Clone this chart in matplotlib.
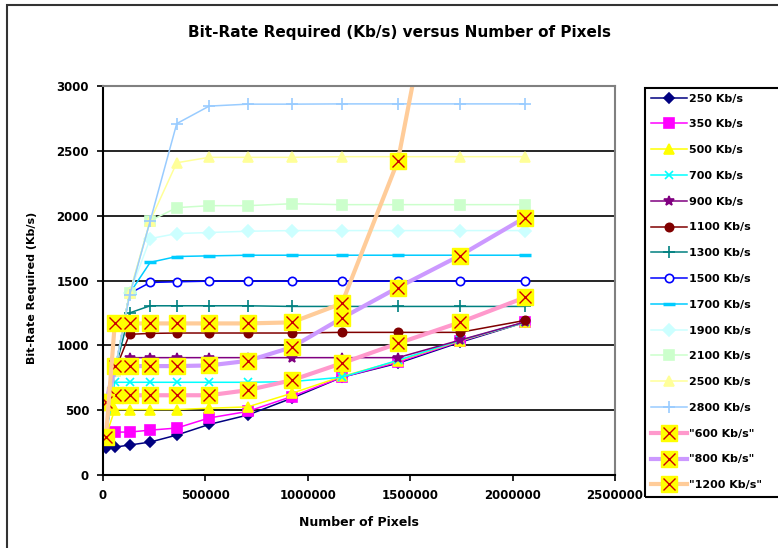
import matplotlib.pyplot as plt
from matplotlib.patches import Rectangle

plt.rcParams['font.family'] = 'DejaVu Sans'
plt.rcParams['font.weight'] = 'bold'

# number of pixels per frame (x positions shared by all series)
pixels = [14400, 57600, 129600, 230400, 360000, 518400, 705600, 921600,
          1166400, 1440000, 1742400, 2060000]

kb250 = [205, 215, 231, 254, 308, 390, 462, 592, 754, 862, 1023, 1177]
kb350 = [290, 331, 331, 346, 362, 440, 490, 605, 754, 870, 1030, 1180]
kb500 = [300, 505, 505, 505, 505, 515, 525, 630, 760, 880, 1035, 1177]
kb700 = [300, 715, 715, 715, 715, 715, 715, 720, 754, 885, 1038, 1177]
kb900 = [300, 800, 905, 905, 905, 905, 905, 905, 905, 905, 1040, 1180]
kb1100 = [300, 800, 1085, 1092, 1095, 1095, 1095, 1095, 1100, 1100, 1100, 1192]
kb1300 = [300, 800, 1250, 1305, 1305, 1305, 1305, 1300, 1300, 1300, 1300, 1300]
kb1500 = [300, 800, 1400, 1485, 1490, 1495, 1495, 1495, 1495, 1495, 1495, 1495]
kb1700 = [300, 800, 1400, 1640, 1685, 1690, 1695, 1695, 1695, 1695, 1695, 1695]
kb1900 = [300, 800, 1400, 1823, 1862, 1870, 1880, 1885, 1885, 1885, 1885, 1885]
kb2100 = [300, 800, 1400, 1960, 2062, 2077, 2077, 2092, 2085, 2085, 2085, 2085]
kb2500 = [300, 800, 1400, 1960, 2408, 2450, 2450, 2450, 2455, 2455, 2455, 2455]
kb2800 = [300, 800, 1385, 1960, 2710, 2845, 2860, 2860, 2862, 2862, 2862, 2862]

q600 = [562, 615, 615, 615, 615, 615, 654, 731, 862, 1015, 1177, 1369]
q800 = [562, 840, 840, 840, 840, 845, 880, 985, 1210, 1446, 1692, 1985]
q1200 = [292, 1169, 1169, 1169, 1169, 1169, 1169, 1177, 1323, 2423, 4900, 7500]

xticks = [0, 500000, 1000000, 1500000, 2000000, 2500000]
xticklabels = ['0', '500000', '1000000', '1500000', '2000000', '2500000']
yticks = [0, 500, 1000, 1500, 2000, 2500, 3000]

W, H = 778, 548
fig = plt.figure(figsize=(W / 100, H / 100), dpi=100)
ax = fig.add_axes([103 / W, 1 - 475 / H, 512 / W, 389 / H])

# plain series: (values, label, line colour, marker, size, face, edge)
plain = [
    (kb250, '250 Kb/s', '#000080', 'D', 5, '#000080', '#000080'),
    (kb350, '350 Kb/s', '#FF00FF', 's', 6.5, '#FF00FF', '#FF00FF'),
    (kb500, '500 Kb/s', '#FFFF00', '^', 7, '#FFFF00', '#FFFF00'),
    (kb700, '700 Kb/s', '#00FFFF', 'x', 6, '#00FFFF', '#00FFFF'),
    (kb900, '900 Kb/s', '#800080', '*', 7, '#800080', '#800080'),
    (kb1100, '1100 Kb/s', '#800000', 'o', 6, '#800000', '#800000'),
    (kb1300, '1300 Kb/s', '#008080', '+', 8, '#008080', '#008080'),
    (kb1500, '1500 Kb/s', '#0000FF', 'o', 6, 'white', '#0000FF'),
    (kb1700, '1700 Kb/s', '#00CCFF', '_', 9, '#00CCFF', '#00CCFF'),
    (kb1900, '1900 Kb/s', '#CCFFFF', 'D', 6, '#CCFFFF', '#CCFFFF'),
    (kb2100, '2100 Kb/s', '#CCFFCC', 's', 7, '#CCFFCC', '#CCFFCC'),
    (kb2500, '2500 Kb/s', '#FFFF99', '^', 7, '#FFFF99', '#FFFF99'),
    (kb2800, '2800 Kb/s', '#99CCFF', '+', 9, '#99CCFF', '#99CCFF'),
]
fancy = [
    (q600, '"600 Kb/s"', '#FF99CC'),
    (q800, '"800 Kb/s"', '#CC99FF'),
    (q1200, '"1200 Kb/s"', '#FFCC99'),
]

handles, labels = [], []
for vals, lab, col, m, ms, fc, ec in plain:
    mew = 2.5 if m == '_' else 1.2
    h, = ax.plot(pixels, vals, color=col, lw=1.1, marker=m, ms=ms,
                 mfc=fc, mec=ec, mew=mew)
    handles.append(h)
    labels.append(lab)

for vals, lab, col in fancy:
    h1, = ax.plot(pixels, vals, color=col, lw=3, marker='s', ms=11.5,
                  mfc='#FFFF00', mec='#FFFF00')
    h2, = ax.plot(pixels, vals, ls='none', marker='x', ms=8,
                  mec='#CC0000', mew=1)
    handles.append((h1, h2))
    labels.append(lab)

ax.set_xlim(0, 2500000)
ax.set_ylim(0, 3000)
ax.set_xticks(xticks)
ax.set_xticklabels(xticklabels)
ax.set_yticks(yticks)
ax.yaxis.grid(True, color='black', lw=1.2)
ax.set_axisbelow(True)
ax.tick_params(direction='out', length=4, width=1.2, labelsize=8.5, pad=6)

for s in ['top', 'right']:
    ax.spines[s].set_color('#808080')
    ax.spines[s].set_linewidth(1.5)
for s in ['left', 'bottom']:
    ax.spines[s].set_color('black')
    ax.spines[s].set_linewidth(1.5)

fig.text(399 / W, 1 - 32 / H, 'Bit-Rate Required (Kb/s) versus Number of Pixels',
         ha='center', va='center', fontsize=11)
fig.text(359 / W, 1 - 523 / H, 'Number of Pixels', ha='center', va='center',
         fontsize=9)
fig.text(32 / W, 1 - 288 / H, 'Bit-Rate Required (Kb/s)', ha='center',
         va='center', rotation=90, fontsize=8)

leg = fig.legend(handles, labels, loc='upper left',
                 bbox_to_anchor=(645 / W, 1 - 88 / H), fontsize=8,
                 frameon=False, handlelength=3.3, handletextpad=0.2,
                 labelspacing=1.42, borderpad=0.5, borderaxespad=0,
                 numpoints=1)

# legend box runs off the right edge, as in the original
fig.patches.append(Rectangle((645 / W, 1 - 497 / H), 0.3, 409 / H,
                             transform=fig.transFigure, fill=False,
                             edgecolor='black', lw=1.5))
fig.patches.append(Rectangle((7 / W, -0.1), 1.2, 1 - 5 / H + 0.1,
                             transform=fig.transFigure, fill=False,
                             edgecolor='#333333', lw=1.5))

plt.savefig('out.png', dpi=100)
